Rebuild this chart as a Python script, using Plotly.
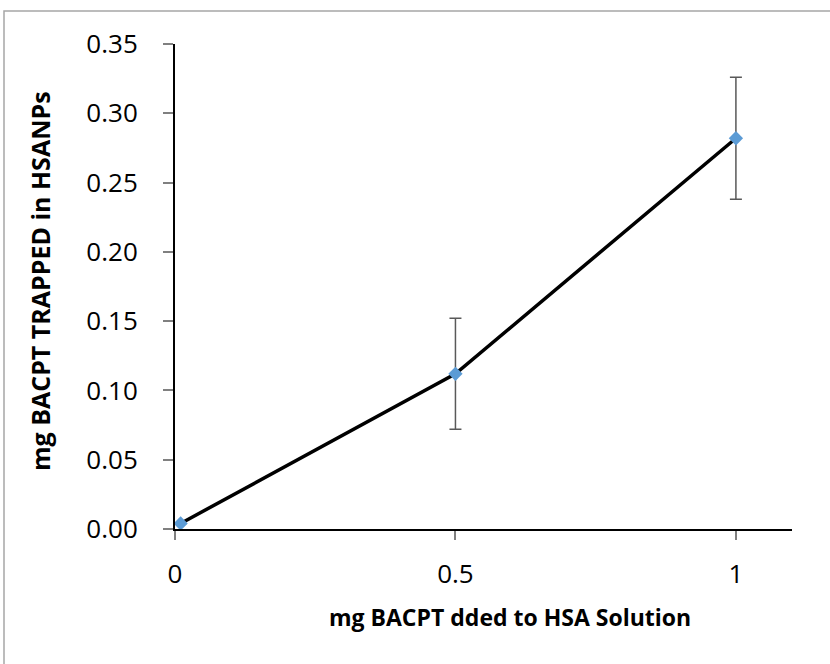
import plotly.graph_objects as go

# BACPT added vs. BACPT trapped in HSA nanoparticles
added_mg = [0.01, 0.5, 1.0]
trapped_mg = [0.004, 0.112, 0.282]
trapped_err = [0.0, 0.040, 0.044]

x_tick_vals = [0, 0.5, 1]
x_tick_text = ["0", "0.5", "1"]

x_title = "mg BACPT dded to HSA Solution"
y_title = "mg BACPT TRAPPED in HSANPs"

FONT = "Open Sans"

fig = go.Figure()
fig.add_trace(go.Scatter(
    x=added_mg,
    y=trapped_mg,
    mode="lines+markers",
    line=dict(color="#000000", width=3.5),
    marker=dict(symbol="diamond", size=11, color="#5B9BD5"),
    error_y=dict(type="data", array=trapped_err, visible=True,
                 color="#595959", thickness=1.5, width=6),
    showlegend=False,
))

L, R, T, B = 175, 38, 44, 135
W, H = 830, 664
pw, ph = W - L - R, H - T - B


def px_x(x):
    return (x - L) / pw


def px_y(y):
    return (H - B - y) / ph


fig.update_layout(
    width=W, height=H,
    margin=dict(l=L, r=R, t=T, b=B, pad=0),
    paper_bgcolor="white",
    plot_bgcolor="white",
    font=dict(family=FONT, color="#000000"),
    xaxis=dict(
        range=[0, 1.1],
        tickvals=x_tick_vals, ticktext=x_tick_text,
        showgrid=False, zeroline=False,
        showline=True, linecolor="#000000", linewidth=2,
        ticks="outside", ticklen=9, tickwidth=1.5, tickcolor="#808080",
        tickfont=dict(family=FONT, size=26, color="#000000"),
        ticklabelstandoff=12,
    ),
    yaxis=dict(
        range=[0, 0.35], dtick=0.05, tickformat=".2f",
        showgrid=False, zeroline=False,
        showline=True, linecolor="#000000", linewidth=2,
        ticks="outside", ticklen=10, tickwidth=1.5, tickcolor="#808080",
        tickfont=dict(family=FONT, size=26, color="#000000"),
        ticklabelstandoff=20,
    ),
    shapes=[dict(
        type="rect", xref="paper", yref="paper",
        x0=px_x(4), x1=px_x(845), y0=px_y(680), y1=px_y(11),
        line=dict(color="#A6A6A6", width=1.5), fillcolor="rgba(0,0,0,0)",
        layer="below",
    )],
    annotations=[
        dict(text=f"<b>{x_title}</b>", xref="paper", yref="paper",
             x=px_x(510), y=px_y(617), showarrow=False,
             xanchor="center", yanchor="middle",
             font=dict(family=FONT, size=23, color="#000000")),
        dict(text=f"<b>{y_title}</b>", xref="paper", yref="paper",
             x=px_x(40), y=px_y(281), showarrow=False, textangle=-90,
             xanchor="center", yanchor="middle",
             font=dict(family=FONT, size=25, color="#000000")),
    ],
)

fig.write_html("out.html")
